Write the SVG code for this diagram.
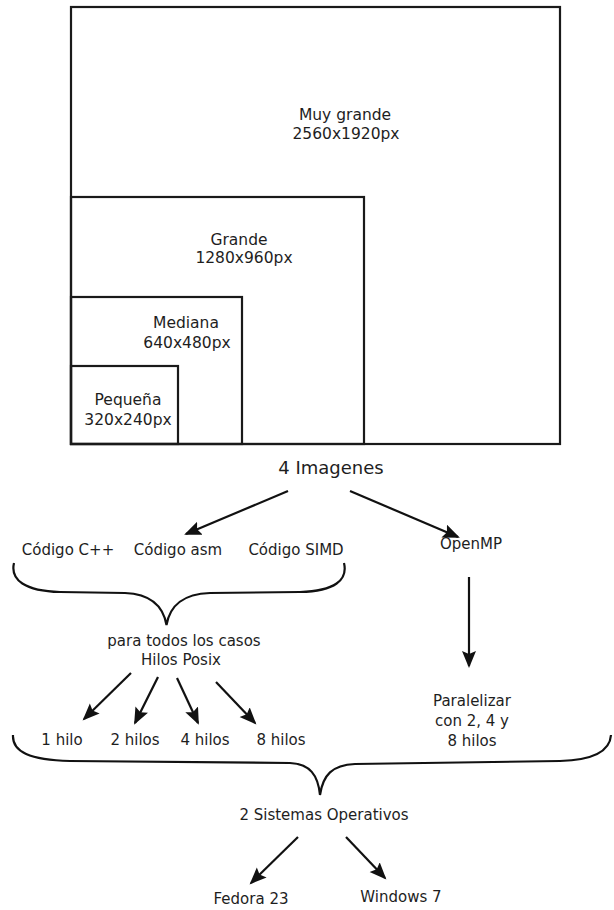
<svg xmlns="http://www.w3.org/2000/svg" width="614" height="910" viewBox="0 0 614 910">
<style>
.box{fill:none;stroke:#1a1a1a;stroke-width:2.2}
.t{font-family:"DejaVu Sans",sans-serif;font-size:15.5px;fill:#1e1e1e;text-anchor:middle}
.s{font-family:"DejaVu Sans",sans-serif;font-size:15px;fill:#1e1e1e;text-anchor:middle}
.big{font-family:"DejaVu Sans",sans-serif;font-size:18px;fill:#1e1e1e;text-anchor:middle}
.c{fill:none;stroke:#111;stroke-width:2.2}
.a{fill:none;stroke:#111;stroke-width:2.2;marker-end:url(#ah)}
</style>
<defs>
<marker id="ah" markerUnits="userSpaceOnUse" markerWidth="18" markerHeight="16" refX="15" refY="7" orient="auto">
<path d="M0,0 L17,7 L0,14 L3,7 z" fill="#111"/>
</marker>
</defs>
<rect width="614" height="910" fill="#fff"/>
<g id="muy-grande">
<rect class="box" x="71" y="7" width="489" height="437"/>
<text class="t" x="345" y="120">Muy grande</text>
<text class="t" x="346" y="139">2560x1920px</text>
</g>
<g id="grande">
<rect class="box" x="71" y="197" width="293" height="247"/>
<text class="t" x="239" y="245">Grande</text>
<text class="t" x="244" y="263">1280x960px</text>
</g>
<g id="mediana">
<rect class="box" x="71" y="297" width="171" height="147"/>
<text class="t" x="186" y="328">Mediana</text>
<text class="t" x="187" y="348">640x480px</text>
</g>
<g id="pequena">
<rect class="box" x="71" y="366" width="107" height="78"/>
<text class="t" x="128" y="405">Pequeña</text>
<text class="t" x="128" y="425">320x240px</text>
</g>
<g id="imagenes"><text class="big" x="331" y="474">4 Imagenes</text></g>
<g id="codigo-cpp"><text class="s" x="68" y="555">Código C++</text></g>
<g id="codigo-asm"><text class="s" x="178" y="555">Código asm</text></g>
<g id="codigo-simd"><text class="s" x="296" y="555">Código SIMD</text></g>
<g id="openmp"><text class="s" x="471" y="549">OpenMP</text></g>
<g id="hilos-posix">
<text class="s" x="184" y="646">para todos los casos</text>
<text class="s" x="181" y="665">Hilos Posix</text>
</g>
<g id="h1"><text class="s" x="62" y="745">1 hilo</text></g>
<g id="h2"><text class="s" x="135" y="745">2 hilos</text></g>
<g id="h4"><text class="s" x="205" y="745">4 hilos</text></g>
<g id="h8"><text class="s" x="281" y="745">8 hilos</text></g>
<g id="paralelizar">
<text class="s" x="472" y="706">Paralelizar</text>
<text class="s" x="472" y="726">con 2, 4 y</text>
<text class="s" x="472" y="746">8 hilos</text>
</g>
<g id="sistemas"><text class="s" x="324" y="820">2 Sistemas Operativos</text></g>
<g id="fedora"><text class="s" x="251" y="904">Fedora 23</text></g>
<g id="windows"><text class="s" x="401" y="902">Windows 7</text></g>
<g id="connectors">
<line class="a" x1="288" y1="491" x2="186" y2="534"/>
<line class="a" x1="350" y1="491" x2="458" y2="537"/>
<line class="a" x1="469" y1="577" x2="469" y2="666"/>
<line class="a" x1="131" y1="673" x2="84" y2="719"/>
<line class="a" x1="158" y1="677" x2="135" y2="723"/>
<line class="a" x1="177" y1="678" x2="198" y2="723"/>
<line class="a" x1="216" y1="682" x2="255" y2="723"/>
<line class="a" x1="298" y1="837" x2="251" y2="883"/>
<line class="a" x1="346" y1="837" x2="385" y2="878"/>
<path class="c" d="M14,563 C10,580 25,591 60,592 L125,593 C150,594 163,605 166.5,625 C170,605 183,594 210,593 L300,592 C335,591 348,580 344,563"/>
<path class="c" d="M13,735 C12,752 30,760 70,761 L290,763 C310,764 318,775 320,795 C323,775 332,765 355,764 L560,761 C595,760 610,750 611,735"/>
</g>
</svg>
